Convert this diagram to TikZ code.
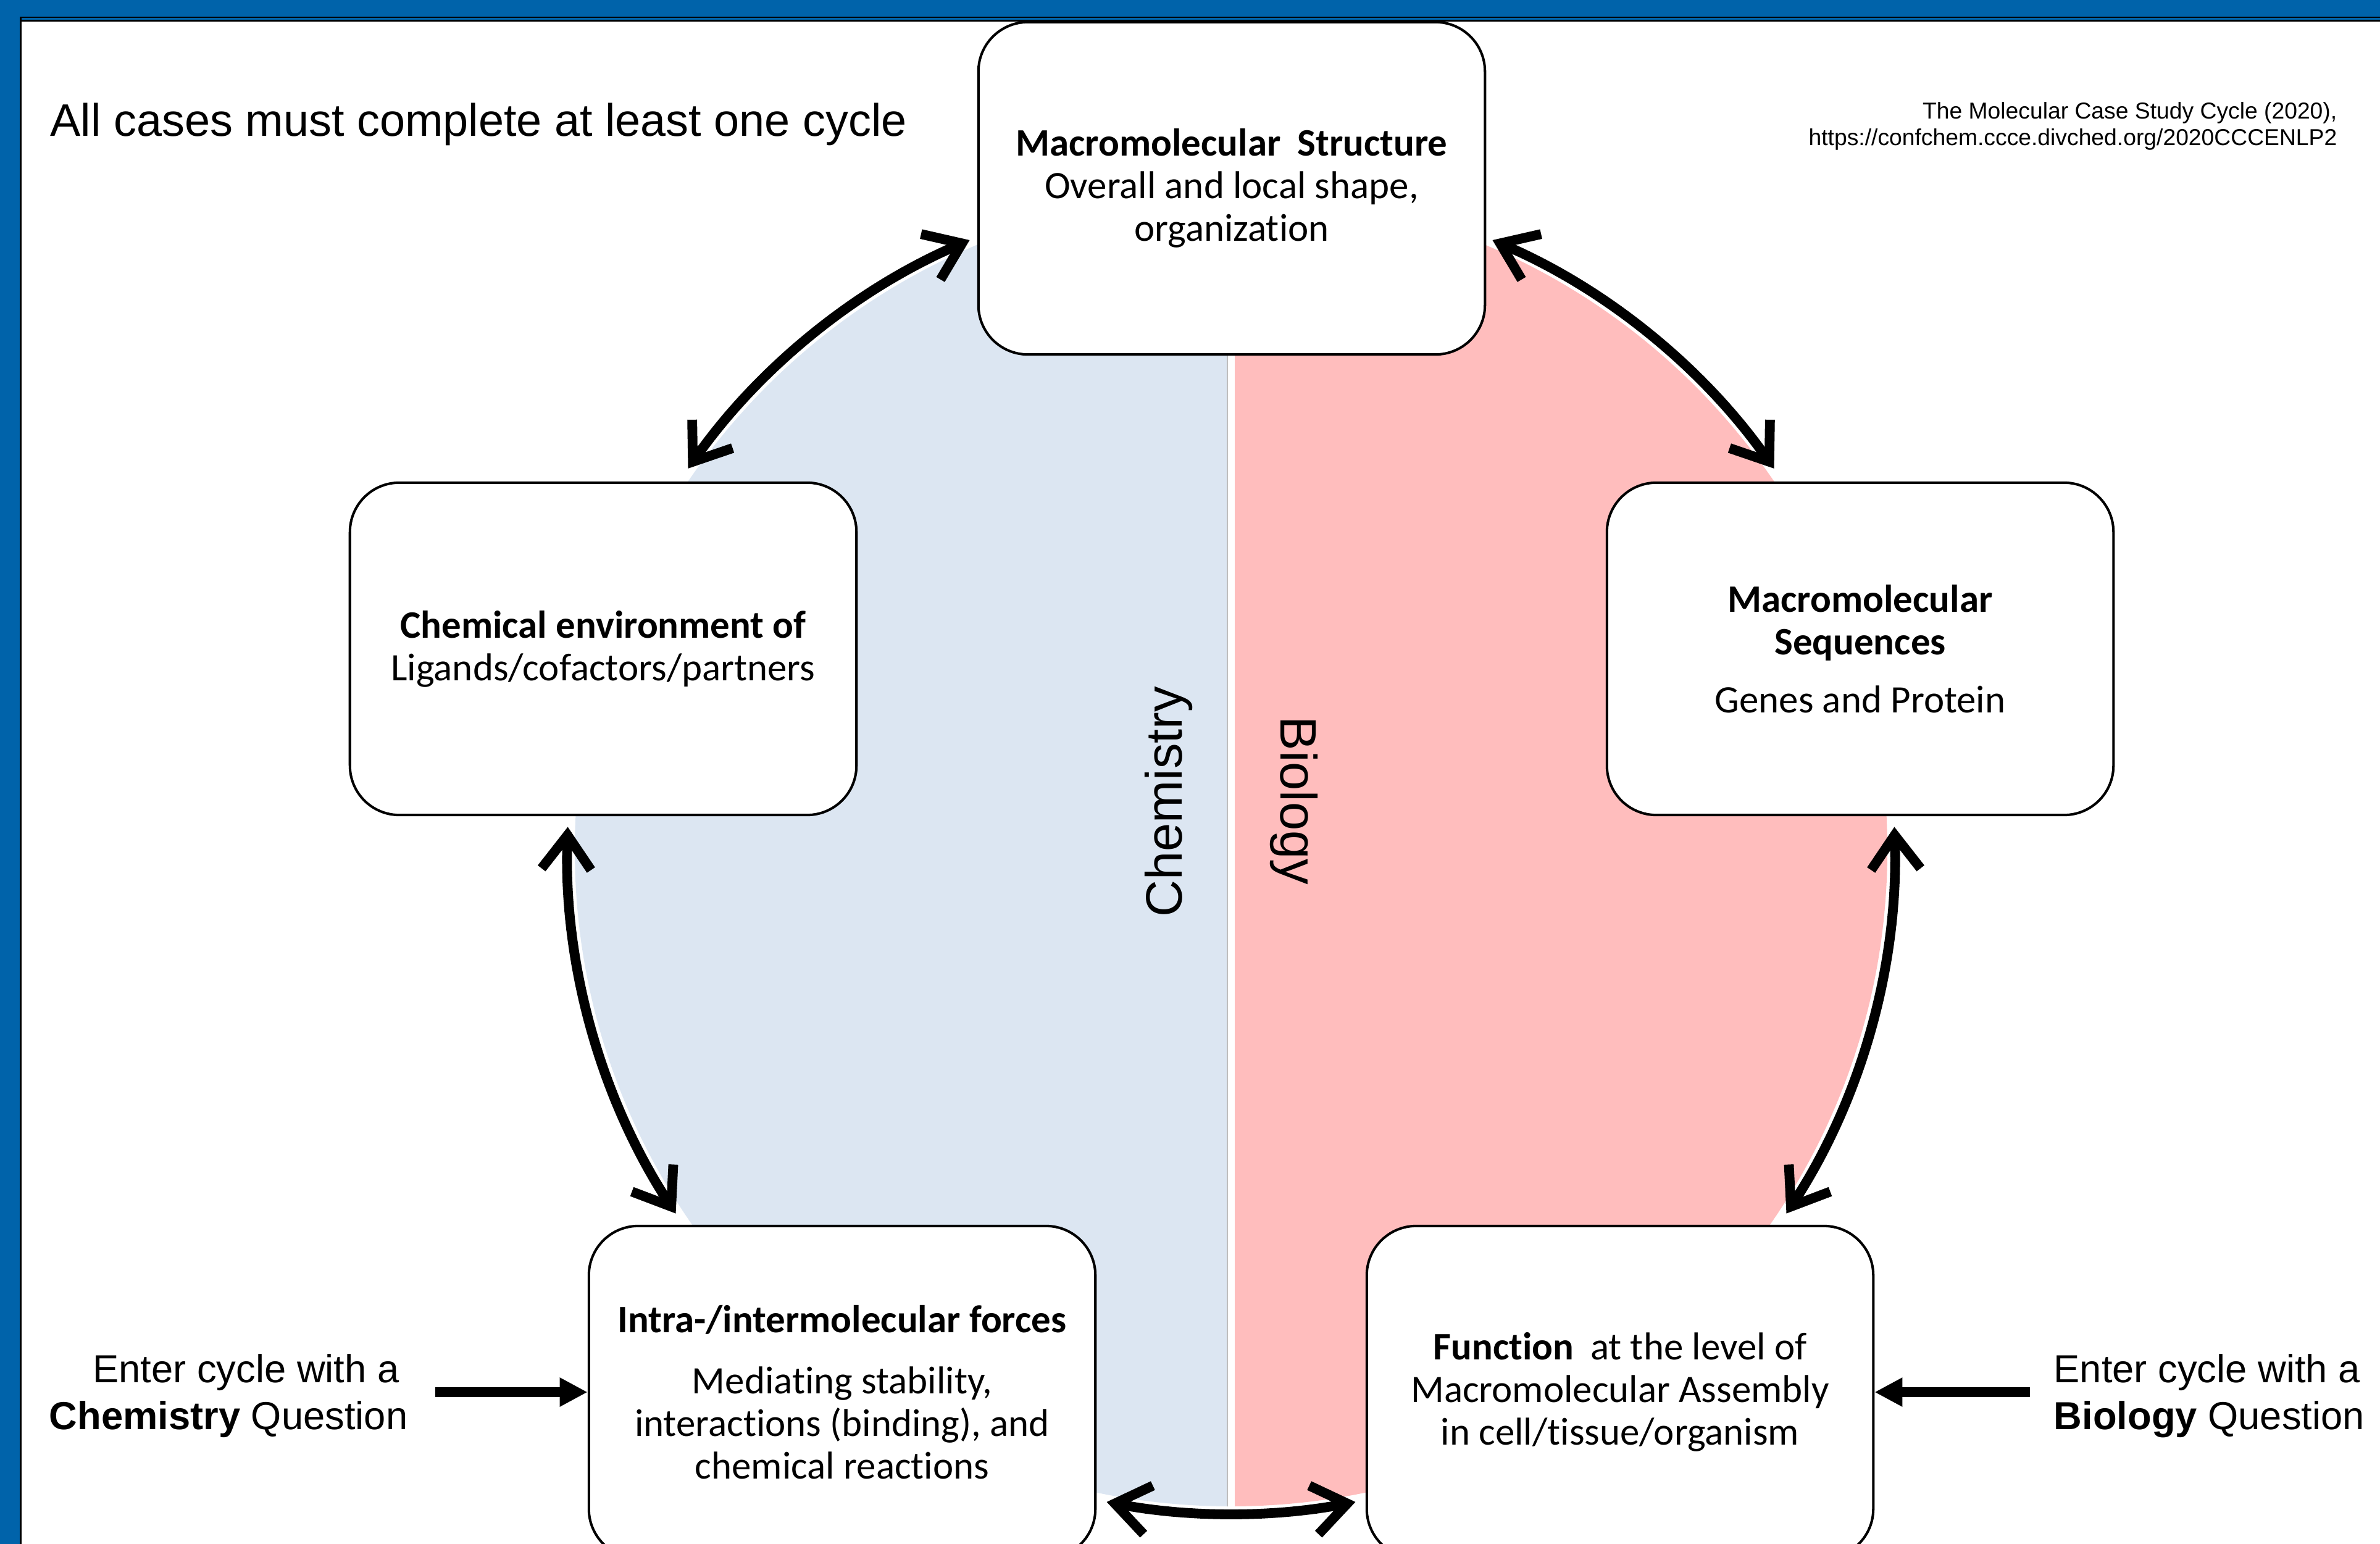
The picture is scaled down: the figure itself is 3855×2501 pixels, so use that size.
\documentclass[tikz,border=0pt]{standalone}
\usepackage{fontspec}
\setmainfont{Liberation Sans}
\newfontfamily\carlito[Ligatures={NoCommon,NoContextual},RawFeature={-liga;-clig;-dlig}]{Carlito}
\usetikzlibrary{arrows.meta,calc}
\definecolor{frameblue}{RGB}{0,99,170}
\definecolor{chemblue}{RGB}{220,230,242}
\definecolor{biopink}{RGB}{255,189,189}
\definecolor{stripegray}{RGB}{190,190,190}
\begin{document}
\begin{tikzpicture}[x=0.01cm,y=-0.01cm,
  box/.style={draw=black, line width=1.15pt, fill=white, rounded corners=0.8cm,
    minimum width=8.2cm, minimum height=5.38cm, align=center, inner sep=0pt,
    font=\carlito\fontsize{17.9pt}{19.6pt}\selectfont},
  cyc/.style={line width=4.5pt, {Straight Barb[length=0.55cm,width=0.8cm]}-{Straight Barb[length=0.55cm,width=0.8cm]}},
  entry/.style={line width=4.3pt, -{Triangle[length=0.45cm,width=0.44cm]}},
  txt/.style={inner sep=0pt}
]
\useasboundingbox (0,0) rectangle (3855,2501);
\clip (0,0) rectangle (3855,2501);

% two-coloured disk
\coordinate (c) at (1994,1377);
\begin{scope}
  \clip (c) circle [radius=1063];
  \fill[chemblue] (800,250) rectangle (1988,2600);
  \fill[biopink] (2000,250) rectangle (3200,2600);
  \draw[stripegray, line width=0.6pt] (1988,250) -- (1988,2600);
\end{scope}

% boxes
\node[box] (top) at (1995,305) {\textbf{Macromolecular\hspace{0.2em} Structure}\\Overall and local shape,\\organization};
\node[box] (left) at (977,1051) {\textbf{Chemical environment of}\\Ligands/cofactors/partners};
\node[box] (right) at (3013,1051) {\textbf{Macromolecular}\\\textbf{Sequences}\\[7pt]Genes and Protein};
\node[box] (bl) at (1364,2255) {\textbf{Intra-/intermolecular forces}\\[8.5pt]Mediating stability,\\interactions (binding), and\\chemical reactions};
\node[box] (br) at (2624,2255) {\textbf{Function}\hspace{0.2em} at the level of\\Macromolecular Assembly\\in cell/tissue/organism};

% cycle arrows
\path (c) ++(246.8:1075) coordinate (a1);
\path (c) ++(293.2:1075) coordinate (a2);
\path (c) ++(182:1075) coordinate (a3);
\path (c) ++(-2:1075) coordinate (a4);
\path (c) ++(100.8:1075) coordinate (a5);
\draw[cyc] (a1) arc[start angle=246.8, end angle=215.1, radius=1075];
\draw[cyc] (a2) arc[start angle=293.2, end angle=324.9, radius=1075];
\draw[cyc] (a3) arc[start angle=182, end angle=146.8, radius=1075];
\draw[cyc] (a4) arc[start angle=-2, end angle=33.2, radius=1075];
\draw[cyc] (a5) arc[start angle=100.8, end angle=79.2, radius=1075];

% entry arrows
\coordinate (ce) at (705,2255);
\coordinate (be) at (3288,2255);
\draw[entry] (ce) -- (bl.west);
\draw[entry] (be) -- (br.east);

% texts
\node[txt, anchor=base west, font=\fontsize{21pt}{25pt}\selectfont] (title) at (81,221) {All cases must complete at least one cycle};
\node[txt, anchor=base east, align=right, font=\fontsize{10.6pt}{12.5pt}\selectfont] (cite) at (3786,236) {The Molecular Case Study Cycle (2020),\\https://confchem.ccce.divched.org/2020CCCENLP2};
\node[txt, rotate=90, font=\fontsize{23.6pt}{28pt}\selectfont] (chem) at (1893,1299) {Chemistry};
\node[txt, rotate=-90, font=\fontsize{23.6pt}{28pt}\selectfont] (bio) at (2096,1297) {Biology};
\node[txt, align=center, font=\fontsize{18pt}{21.6pt}\selectfont] (chemq) at (370,2261) {\hspace*{0.9em}Enter cycle with a\\\textbf{Chemistry} Question};
\node[txt, align=left, anchor=west, font=\fontsize{18pt}{21.6pt}\selectfont] (bioq) at (3326,2261) {Enter cycle with a\\\textbf{Biology} Question};

% frame
\fill[frameblue] (0,0) rectangle (3855,35);
\fill[frameblue] (0,0) rectangle (35,2501);
\fill[black] (32,27) rectangle (3855,29.5);
\fill[black] (32,32.5) rectangle (3855,35);
\fill[black] (32,27) rectangle (35,2501);
\end{tikzpicture}
\end{document}
